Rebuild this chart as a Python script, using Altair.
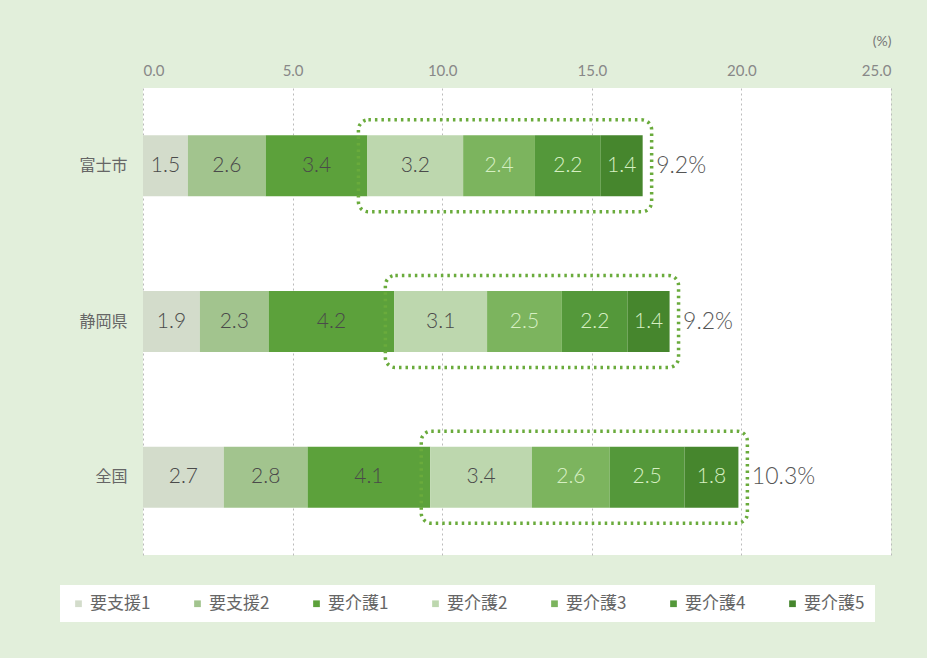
import altair as alt
import pandas as pd

regions = ["富士市", "静岡県", "全国"]
levels = ["要支援1", "要支援2", "要介護1", "要介護2", "要介護3", "要介護4", "要介護5"]
shien1 = [1.5, 1.9, 2.7]
shien2 = [2.6, 2.3, 2.8]
kaigo1 = [3.4, 4.2, 4.1]
kaigo2 = [3.2, 3.1, 3.4]
kaigo3 = [2.4, 2.5, 2.6]
kaigo4 = [2.2, 2.2, 2.5]
kaigo5 = [1.4, 1.4, 1.8]
x_ticks = [0, 5, 10, 15, 20, 25]
colors = ["#d3dccb", "#a2c48e", "#5ca13b", "#bdd7ae", "#7cb45e", "#54983a", "#46862d"]

series = [shien1, shien2, kaigo1, kaigo2, kaigo3, kaigo4, kaigo5]
rows = []
boxes = []
for i, r in enumerate(regions):
    cum = 0.0
    for j, lv in enumerate(levels):
        v = series[j][i]
        rows.append({"region": r, "level": lv, "value": v, "start": cum,
                     "end": cum + v, "mid": cum + v / 2, "label": f"{v:.1f}"})
        cum += v
    care = sum(series[j][i] for j in range(3, 7))
    bstart = sum(series[j][i] for j in range(3))
    boxes.append({"region": r, "b0": bstart - 0.3, "b1": cum + 0.3,
                  "tx": cum + 0.45, "total": f"{care:.1f}%"})
df = pd.DataFrame(rows)
bdf = pd.DataFrame(boxes)

FONT = "Lato"
ysc = alt.Y("region:N", sort=regions, title=None,
            scale=alt.Scale(paddingInner=0, paddingOuter=0),
            axis=alt.Axis(labelFont="Noto Sans CJK JP", labelFontSize=16, labelColor="#666666",
                          labelFontWeight="normal",
                          labelPadding=16, ticks=False, domain=False))

bars = alt.Chart(df).mark_bar(size=61).encode(
    x=alt.X("start:Q", scale=alt.Scale(domain=[0, 25], nice=False),
            axis=alt.Axis(orient="top", values=x_ticks, format=".1f", title="(%)",
                          titleX=748, titleY=-40, titleAlign="right", titleFontWeight="normal",
                          titleFontSize=14, titleColor="#777777", titleFont=FONT,
                          labelFont=FONT, labelFontSize=15, labelColor="#888888",
                          labelPadding=10, ticks=False, domain=False,
                          grid=True, gridDash=[2, 3], gridColor="#bbbbbb", gridWidth=1)),
    x2="end:Q",
    y=ysc,
    color=alt.Color("level:N", sort=levels,
                    scale=alt.Scale(domain=levels, range=colors),
                    legend=alt.Legend(title=None, orient="none", legendX=-83, legendY=497,
                                      direction="horizontal", columns=7, gridAlign="all",
                                      columnPadding=38, symbolType="square", symbolSize=45,
                                      symbolStrokeWidth=0, labelFont="Noto Sans CJK JP",
                                      labelFontSize=17, labelFontWeight="normal",
                                      labelColor="#666666", labelOffset=3,
                                      fillColor="white", padding=10)),
)

light = ["要介護3", "要介護4", "要介護5"]
texts = alt.Chart(df).mark_text(font=FONT, fontSize=21, fontWeight=300).encode(
    x="mid:Q",
    y=alt.Y("region:N", sort=regions),
    text="label:N",
    color=alt.condition(alt.FieldOneOfPredicate(field="level", oneOf=light),
                        alt.value("#d6efc2"), alt.value("#4a4a4a")),
)

box = alt.Chart(bdf).mark_bar(size=92, fillOpacity=0, stroke="#6aab3c", strokeWidth=3.5,
                              strokeDash=[2.5, 4], cornerRadius=10).encode(
    x="b0:Q", x2="b1:Q", y=alt.Y("region:N", sort=regions),
)

totals = alt.Chart(bdf).mark_text(font=FONT, fontSize=23, fontWeight=300, align="left",
                                  color="#555555").encode(
    x="tx:Q", y=alt.Y("region:N", sort=regions), text="total:N",
)

chart = alt.layer(bars, box, texts, totals).properties(
    width=748, height=467,
    autosize=alt.AutoSizeParams(type="none"),
    padding={"left": 143, "top": 88, "right": 36, "bottom": 103},
    background="#e2efdb",
).configure_view(fill="white", strokeWidth=0)

chart.save("out.html", embed_options={"renderer": "svg", "actions": False})
